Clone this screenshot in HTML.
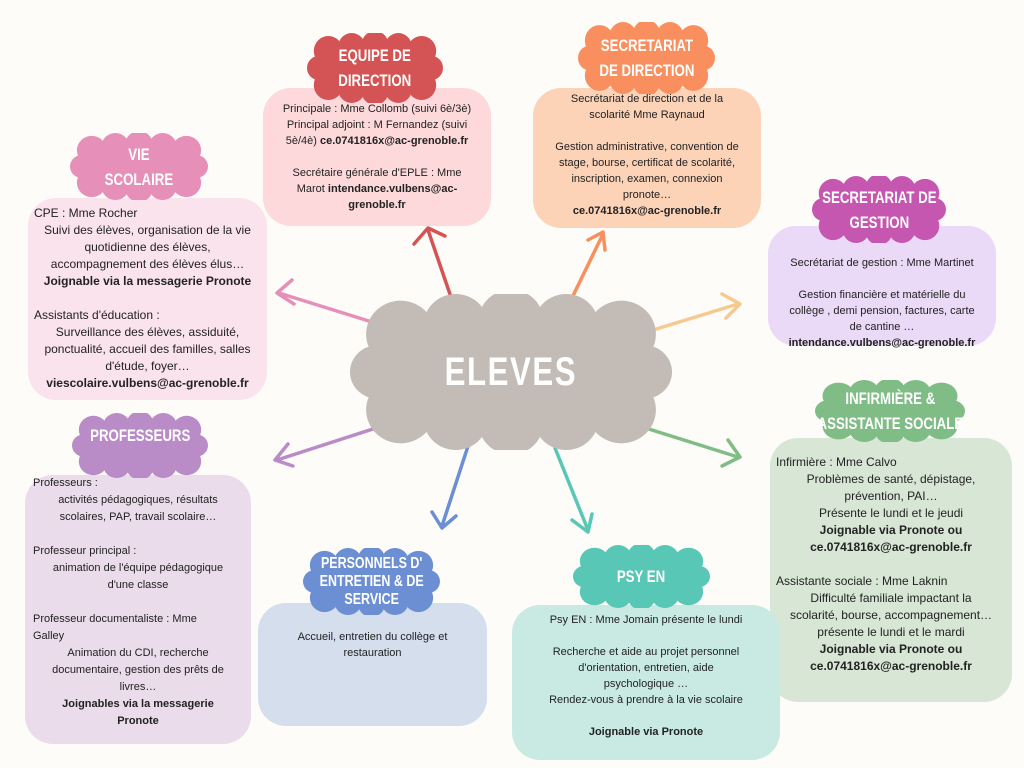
<!DOCTYPE html>
<html><head><meta charset="utf-8">
<style>
body{margin:0;width:1024px;height:768px;background:#fdfcf8;position:relative;overflow:hidden;font-family:"Liberation Sans",sans-serif;color:#222}
.box{position:absolute;border-radius:28px;font-size:11px;line-height:16px;text-align:center;box-sizing:border-box;padding:0 6px;white-space:nowrap}
.cl{position:absolute}
.ht{position:absolute;color:#fff;font-family:"Liberation Sans",sans-serif;font-weight:bold;font-size:17px;line-height:25px;text-align:center;display:flex;align-items:center;justify-content:center;white-space:nowrap}
.ht span{display:inline-block;transform:scaleX(.78)}
b{font-weight:bold}
.l{text-align:left}
</style></head><body>
<svg width="0" height="0" style="position:absolute"><defs>
<g id="cloud">
<rect x="14" y="14" width="112" height="42"/>
<circle cx="22" cy="18" r="15"/><circle cx="46" cy="14" r="14"/><circle cx="70" cy="12" r="14"/><circle cx="94" cy="14" r="14"/><circle cx="118" cy="18" r="15"/>
<circle cx="22" cy="52" r="15"/><circle cx="46" cy="56" r="14"/><circle cx="70" cy="58" r="14"/><circle cx="94" cy="56" r="14"/><circle cx="118" cy="52" r="15"/>
<circle cx="12" cy="35" r="12"/><circle cx="128" cy="35" r="12"/>
</g></defs></svg>

<!-- boxes -->
<div class="box" style="left:263px;top:88px;width:228px;height:138px;background:#fdd9db;padding-top:13px">Principale : Mme Collomb (suivi 6è/3è)<br>Principal adjoint : M Fernandez (suivi<br>5è/4è) <b>ce.0741816x@ac-grenoble.fr</b><br><br>Secrétaire générale d'EPLE : Mme<br>Marot <b>intendance.vulbens@ac-</b><br><b>grenoble.fr</b></div>
<div class="box" style="left:533px;top:88px;width:228px;height:140px;background:#fdd3b8;padding-top:3px">Secrétariat de direction et de la<br>scolarité Mme Raynaud<br><br>Gestion administrative, convention de<br>stage, bourse, certificat de scolarité,<br>inscription, examen, connexion<br>pronote…<br><b>ce.0741816x@ac-grenoble.fr</b></div>
<div class="box" style="left:28px;top:198px;width:239px;height:202px;background:#fae3ec;padding-top:7px;font-size:12px;line-height:17px">
<div class="l">CPE : Mme Rocher</div>Suivi des élèves, organisation de la vie<br>quotidienne des élèves,<br>accompagnement des élèves élus…<br><b>Joignable via la messagerie Pronote</b><br><br><div class="l">Assistants d'éducation :</div>Surveillance des élèves, assiduité,<br>ponctualité, accueil des familles, salles<br>d'étude, foyer…<br><b>viescolaire.vulbens@ac-grenoble.fr</b></div>
<div class="box" style="left:768px;top:226px;width:228px;height:120px;background:#ead9f7;padding-top:29px">Secrétariat de gestion : Mme Martinet<br><br>Gestion financière et matérielle du<br>collège , demi pension, factures, carte<br>de cantine …<br><b>intendance.vulbens@ac-grenoble.fr</b></div>
<div class="box" style="left:770px;top:438px;width:242px;height:264px;background:#d8e6d6;padding-top:16px;font-size:12px;line-height:17px">
<div class="l">Infirmière : Mme Calvo</div>Problèmes de santé, dépistage,<br>prévention, PAI…<br>Présente le lundi et le jeudi<br><b>Joignable via Pronote ou<br>ce.0741816x@ac-grenoble.fr</b><br><br><div class="l">Assistante sociale : Mme Laknin</div>Difficulté familiale impactant la<br>scolarité, bourse, accompagnement…<br>présente le lundi et le mardi<br><b>Joignable via Pronote ou<br>ce.0741816x@ac-grenoble.fr</b></div>
<div class="box" style="left:25px;top:475px;width:226px;height:269px;background:#eadcea;padding:0 8px;font-size:11px;line-height:17px">
<div class="l">Professeurs :</div>activités pédagogiques, résultats<br>scolaires, PAP, travail scolaire…<br><br><div class="l">Professeur principal :</div>animation de l'équipe pédagogique<br>d'une classe<br><br><div class="l">Professeur documentaliste : Mme<br>Galley</div>Animation du CDI, recherche<br>documentaire, gestion des prêts de<br>livres…<br><b>Joignables via la messagerie<br>Pronote</b></div>
<div class="box" style="left:258px;top:603px;width:229px;height:123px;background:#d4deec;padding-top:26px">Accueil, entretien du collège et<br>restauration</div>
<div class="box" style="left:512px;top:605px;width:268px;height:155px;background:#c9eae2;padding-top:7px">Psy EN : Mme Jomain présente le lundi<br><br>Recherche et aide au projet personnel<br>d'orientation, entretien, aide<br>psychologique …<br>Rendez-vous à prendre à la vie scolaire<br><br><b>Joignable via Pronote</b></div>

<!-- arrows -->
<svg style="position:absolute;left:0;top:0" width="1024" height="768" fill="none" stroke-width="3.5" stroke-linecap="round" stroke-linejoin="round">
<path d="M452 300 L428 230 M414 244 L428 228 L445 236" stroke="#d45455"/>
<path d="M570 302 L603 234 M588 240 L603 232 L605 250" stroke="#f98f5e"/>
<path d="M372 322 L279 293 M292 280 L277 293 L294 304" stroke="#e68fb9"/>
<path d="M640 334 L738 304 M722 294 L740 304 L726 318" stroke="#f7c98f"/>
<path d="M382 426 L277 460 M288 444 L275 460 L293 466" stroke="#b98cc7"/>
<path d="M470 440 L442 526 M432 512 L442 528 L456 516" stroke="#6c8fd4"/>
<path d="M555 448 L588 530 M572 520 L588 532 L592 514" stroke="#58c7b5"/>
<path d="M620 420 L738 457 M728 440 L740 457 L722 466" stroke="#80bc86"/>
</svg>

<!-- center cloud -->
<svg class="cl" style="left:350px;top:294px" width="322" height="156" viewBox="0 0 140 70" preserveAspectRatio="none" fill="#c3bbb6"><use href="#cloud"/></svg>
<div class="ht" style="left:350px;top:294px;width:322px;height:156px;font-size:40px;line-height:40px;letter-spacing:2px"><span>ELEVES</span></div>

<!-- header clouds -->
<svg class="cl" style="left:307px;top:33px" width="136" height="70" viewBox="0 0 140 70" preserveAspectRatio="none" fill="#d45455"><use href="#cloud"/></svg>
<div class="ht" style="left:307px;top:33px;width:136px;height:70px"><span>EQUIPE DE<br>DIRECTION</span></div>
<svg class="cl" style="left:578px;top:22px" width="137" height="72" viewBox="0 0 140 70" preserveAspectRatio="none" fill="#f98f5e"><use href="#cloud"/></svg>
<div class="ht" style="left:578px;top:22px;width:137px;height:72px"><span>SECRETARIAT<br>DE DIRECTION</span></div>
<svg class="cl" style="left:70px;top:133px" width="138" height="67" viewBox="0 0 140 70" preserveAspectRatio="none" fill="#e68fb9"><use href="#cloud"/></svg>
<div class="ht" style="left:70px;top:133px;width:138px;height:67px"><span>VIE<br>SCOLAIRE</span></div>
<svg class="cl" style="left:812px;top:176px" width="134" height="67" viewBox="0 0 140 70" preserveAspectRatio="none" fill="#c557b1"><use href="#cloud"/></svg>
<div class="ht" style="left:796px;top:176px;width:166px;height:67px"><span>SECRETARIAT DE<br>GESTION</span></div>
<svg class="cl" style="left:815px;top:380px" width="150" height="62" viewBox="0 0 140 70" preserveAspectRatio="none" fill="#80bc86"><use href="#cloud"/></svg>
<div class="ht" style="left:790px;top:380px;width:200px;height:62px"><span>INFIRMIÈRE &amp;<br>ASSISTANTE SOCIALE</span></div>
<svg class="cl" style="left:72px;top:413px" width="136" height="65" viewBox="0 0 140 70" preserveAspectRatio="none" fill="#b98cc7"><use href="#cloud"/></svg>
<div class="ht" style="left:72px;top:413px;width:136px;height:45px"><span>PROFESSEURS</span></div>
<svg class="cl" style="left:303px;top:548px" width="137" height="67" viewBox="0 0 140 70" preserveAspectRatio="none" fill="#6c8fd4"><use href="#cloud"/></svg>
<div class="ht" style="left:293px;top:548px;width:157px;height:67px;font-size:16px;line-height:18px"><span>PERSONNELS D'<br>ENTRETIEN &amp; DE<br>SERVICE</span></div>
<svg class="cl" style="left:573px;top:545px" width="137" height="63" viewBox="0 0 140 70" preserveAspectRatio="none" fill="#58c7b5"><use href="#cloud"/></svg>
<div class="ht" style="left:573px;top:545px;width:137px;height:63px"><span>PSY EN</span></div>
</body></html>
